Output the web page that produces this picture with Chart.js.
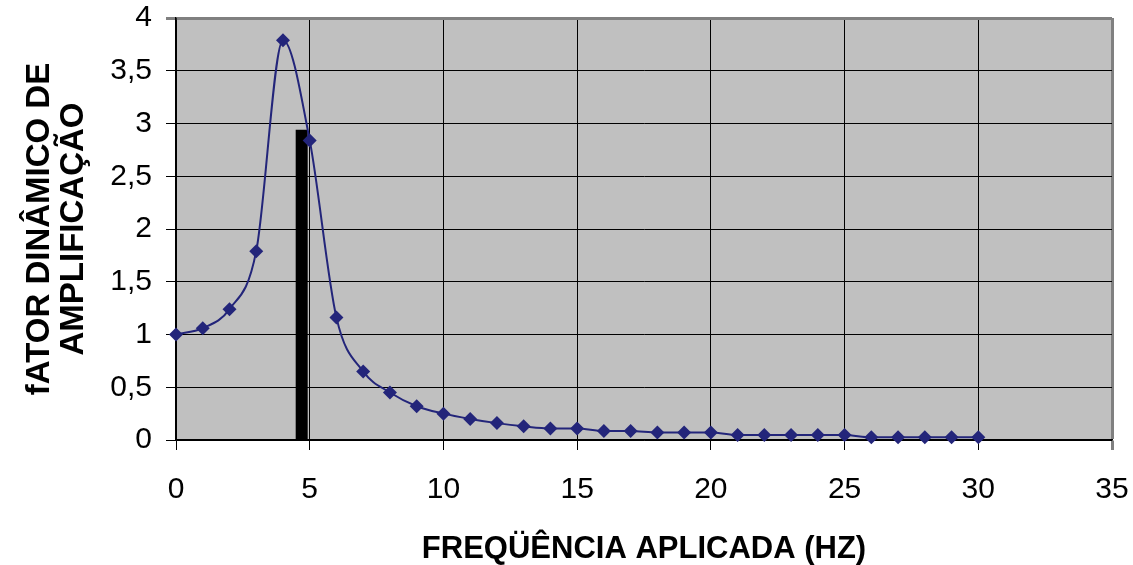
<!DOCTYPE html>
<html>
<head>
<meta charset="utf-8">
<script src="https://cdn.jsdelivr.net/npm/chart.js@4"></script>
<style>
  body { margin: 0; background: #fff; }
  #wrap { width: 1133px; height: 565px; }
</style>
</head>
<body>
<div id="wrap"><canvas id="fadChart"></canvas></div>
<script>
// frequency (Hz) and dynamic amplification factor
const freq = [0, 1, 2, 3, 4, 5, 6, 7, 8, 9, 10, 11, 12, 13, 14, 15, 16, 17, 18, 19, 20,
  21, 22, 23, 24, 25, 26, 27, 28, 29, 30];
const fad = [1.0, 1.06, 1.24, 1.79, 3.79, 2.84, 1.16, 0.65, 0.45, 0.32, 0.25, 0.2, 0.16, 0.13,
  0.11, 0.11, 0.085, 0.085, 0.07, 0.07, 0.07, 0.047, 0.047, 0.047, 0.047, 0.047,
  0.025, 0.025, 0.025, 0.025, 0.025];

// thick black marker line (operating frequency)
const markFreq = [4.7, 4.7];
const markVal = [0, 2.94];

const xTicks = [0, 5, 10, 15, 20, 25, 30, 35];
const yTicks = [0, 0.5, 1, 1.5, 2, 2.5, 3, 3.5, 4];

const navy = "#23257a";

// gray plot area like the old Excel charts
const plotBg = {
  id: "plotBg",
  beforeDraw(chart) {
    const { ctx, chartArea: a } = chart;
    ctx.save();
    ctx.fillStyle = "#c0c0c0";
    ctx.fillRect(a.left, a.top, a.right - a.left, a.bottom - a.top);
    ctx.restore();
  },
};

const ctx = document.getElementById("fadChart").getContext("2d");

new Chart(ctx, {
  type: "line",
  data: {
    datasets: [
      {
        label: "FAD",
        data: freq.map((f, i) => ({ x: f, y: fad[i] })),
        borderColor: navy,
        backgroundColor: navy,
        borderWidth: 2,
        cubicInterpolationMode: "monotone",
        pointStyle: "rectRot",
        pointRadius: 7,
        pointHoverRadius: 7,
        pointBorderWidth: 0,
        clip: false,
        order: 1,
      },
      {
        label: "freq",
        data: markFreq.map((f, i) => ({ x: f, y: markVal[i] })),
        borderColor: "#000",
        borderWidth: 12,
        borderCapStyle: "butt",
        pointRadius: 0,
        tension: 0,
        clip: false,
        order: 2,
      },
    ],
  },
  options: {
    responsive: true,
    maintainAspectRatio: false,
    animation: false,
    layout: { padding: { top: 18, right: 21, left: 0, bottom: 0 } },
    plugins: {
      legend: { display: false },
      tooltip: { enabled: false },
    },
    scales: {
      x: {
        type: "linear",
        min: 0,
        max: 35,
        afterBuildTicks: (s) => { s.ticks = xTicks.map((v) => ({ value: v })); },
        afterFit: (s) => {
          s.height = 125;
          s.paddingLeft = 0;
          s.paddingRight = 0;
        },
        ticks: {
          color: "#000",
          padding: 22,
          maxRotation: 0,
          font: { family: "Liberation Sans", size: 30 },
        },
        grid: {
          color: (c) => (c.tick && c.tick.value === 35 ? "#808080" : "#000"),
          lineWidth: (c) => (c.tick && c.tick.value === 35 ? 3 : 1),
          tickLength: 10,
        },
        border: { color: "#000", width: 1.5 },
        title: {
          display: true,
          text: "FREQÜÊNCIA APLICADA (HZ)",
          color: "#000",
          padding: { top: 0, bottom: 0 },
          font: { family: "Liberation Sans", size: 31, weight: "bold", lineHeight: 1.0 },
        },
      },
      y: {
        min: 0,
        max: 4,
        afterBuildTicks: (s) => { s.ticks = yTicks.map((v) => ({ value: v })); },
        afterFit: (s) => {
          s.width = 176;
          s.paddingTop = 0;
          s.paddingBottom = 0;
        },
        ticks: {
          color: "#000",
          padding: 14,
          font: { family: "Liberation Sans", size: 30 },
          callback: (v) => String(v).replace(".", ","),
        },
        grid: {
          color: (c) => (c.tick && c.tick.value === 4 ? "#808080" : "#000"),
          lineWidth: (c) => (c.tick && c.tick.value === 4 ? 3 : 1),
          tickLength: 10,
        },
        border: { color: "#000", width: 1.5 },
        title: {
          display: true,
          text: ["fATOR DINÂMICO DE", "AMPLIFICAÇÃO"],
          color: "#000",
          padding: { top: 23, bottom: 0 },
          font: { family: "Liberation Sans", size: 33, weight: "bold", lineHeight: 1.02 },
        },
      },
    },
  },
  plugins: [plotBg],
});
</script>
</body>
</html>
